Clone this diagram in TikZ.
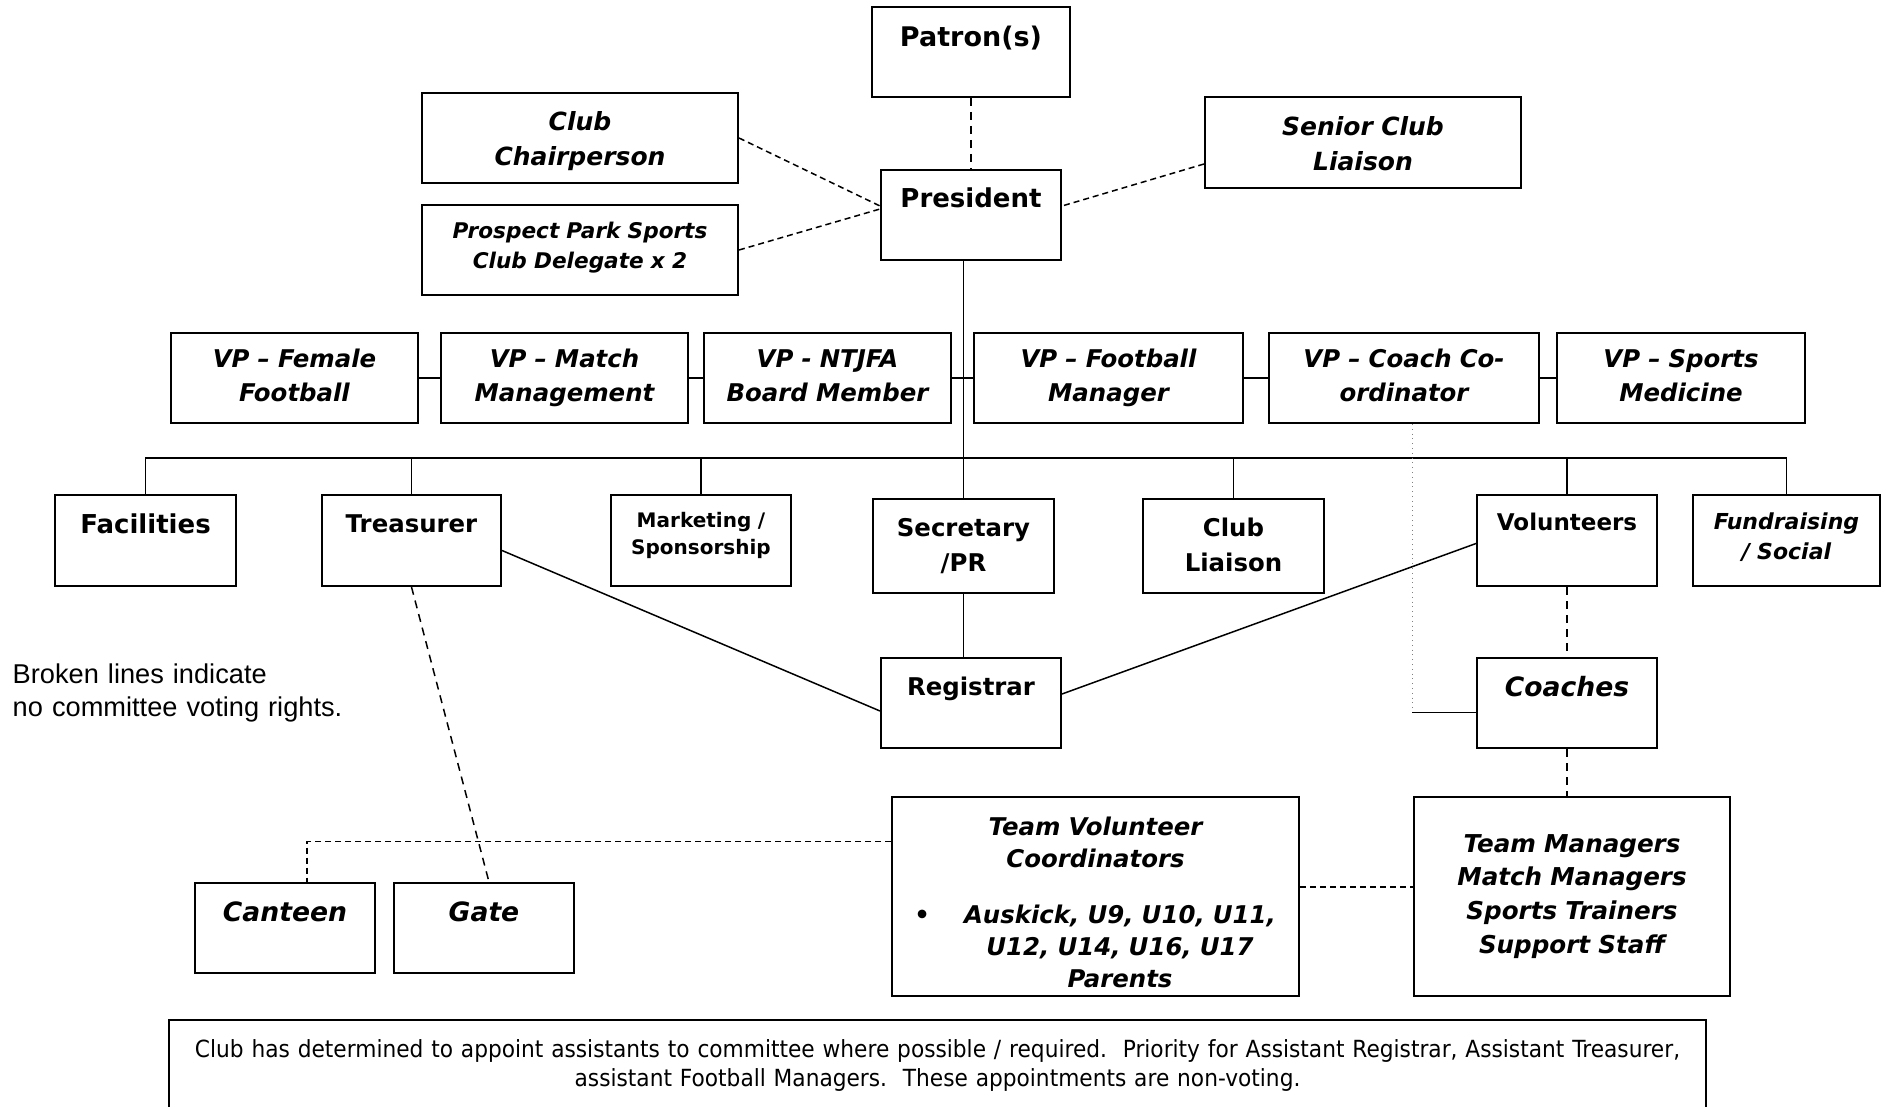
\documentclass[tikz,border=0pt]{standalone}
\usepackage{fontspec}
\setmainfont{DejaVu Sans}[BoldFont={DejaVu Sans Bold},ItalicFont={DejaVu Sans Oblique},BoldItalicFont={DejaVu Sans Bold Oblique}]
\newfontfamily\notefont{DejaVu Sans}[FakeStretch=0.92]
\newfontfamily\arialfont{Liberation Sans}
\usetikzlibrary{positioning}

\begin{document}
\begin{tikzpicture}[x=0.5pt,y=-0.5pt,line width=0.75pt,
  box/.style={draw,line width=1pt,anchor=north west,inner sep=0pt,align=center,text height=19pt},
  vp/.style={box,font=\fontsize{12.2}{17}\selectfont\bfseries\itshape,text width=123.5pt,text height=17.5pt,text depth=27.5pt},
  broken/.style={dash pattern=on 4pt off 3pt},
  fine/.style={dash pattern=on 3pt off 2pt}]
\useasboundingbox (0,0) rectangle (1891,1107);
\node[box,text width=99pt,text height=20pt,text depth=25pt,font=\fontsize{13.5}{17.5}\selectfont\bfseries](patron) at (871,6){Patron(s)};
\node[box,text width=90pt,text depth=26pt,font=\fontsize{13}{17.5}\selectfont\bfseries](pres) at (880,169){President};
\node[box,text width=158pt,text depth=26pt,font=\fontsize{12.5}{17.5}\selectfont\bfseries\itshape](chair) at (421,92){Club\\Chairperson};
\node[box,text width=158pt,text height=17pt,text depth=28pt,font=\fontsize{10.8}{15}\selectfont\bfseries\itshape,below=10pt of chair](pros){Prospect Park Sports\\Club Delegate x 2};
\node[box,text width=158pt,text height=19.25pt,text depth=26.25pt,font=\fontsize{12.5}{17.5}\selectfont\bfseries\itshape](senior) at (1204,96){Senior Club\\Liaison};
\node[vp](vpfem) at (170,332){VP – Female\\Football};
\node[vp,right=10.5pt of vpfem](vpmatch){VP – Match\\Management};
\node[vp,right=7pt of vpmatch](vpntjfa){VP - NTJFA\\Board Member};
\node[vp,text width=134.5pt,right=10.5pt of vpntjfa](vpfoot){VP – Football\\Manager};
\node[vp,text width=135pt,right=12pt of vpfoot](vpcoach){VP – Coach Co-\\ordinator};
\node[vp,text width=124pt,right=8pt of vpcoach](vpsport){VP – Sports\\Medicine};
\node[box,text width=90.5pt,text height=19.25pt,text depth=26.25pt,font=\fontsize{13}{17.5}\selectfont\bfseries](fac) at (54,494){Facilities};
\node[box,text width=89.5pt,text height=18.5pt,text depth=27pt,font=\fontsize{12.2}{17.5}\selectfont\bfseries](treas) at (321,494){Treasurer};
\node[box,text width=90pt,text height=16pt,text depth=29.5pt,font=\fontsize{10}{13.8}\selectfont\bfseries](mark) at (610,494){Marketing /\\Sponsorship};
\node[box,text width=90.5pt,text height=18.5pt,text depth=28.5pt,font=\fontsize{12.2}{17.5}\selectfont\bfseries](sec) at (872,498){Secretary\\/PR};
\node[box,text width=90.5pt,text height=18.5pt,text depth=28.5pt,font=\fontsize{12.2}{17.5}\selectfont\bfseries](club) at (1142,498){Club\\Liaison};
\node[box,text width=90pt,text height=17.5pt,text depth=28pt,font=\fontsize{11.5}{17.5}\selectfont\bfseries](vol) at (1476,494){Volunteers};
\node[box,text width=93.5pt,text height=17pt,text depth=28.5pt,font=\fontsize{11}{15}\selectfont\bfseries\itshape](fund) at (1692,494){Fundraising\\/ Social};
\node[box,text width=90pt,text height=18.5pt,text depth=26.5pt,font=\fontsize{12.2}{17.5}\selectfont\bfseries](reg) at (880,657){Registrar};
\node[box,text width=90pt,text height=19.3pt,text depth=25.7pt,font=\fontsize{13.3}{17.5}\selectfont\bfseries\itshape](coach) at (1476,657){Coaches};
\node[box,text width=203.5pt,text depth=80.5pt,font=\fontsize{12.2}{16}\selectfont\bfseries\itshape](tvc) at (891,796){Team Volunteer\\Coordinators\\[12pt]\hspace*{24.5pt}\llap{\textbullet\hspace{17pt}}Auskick, U9, U10, U11,\\\hspace*{24.5pt}U12, U14, U16, U17\\\hspace*{24.5pt}Parents};
\node[box,text width=158pt,text height=27.5pt,text depth=72pt,font=\fontsize{12.3}{16.9}\selectfont\bfseries\itshape](tm) at (1413,796){Team Managers\\Match Managers\\Sports Trainers\\Support Staff};
\node[box,text width=90pt,text depth=26pt,font=\fontsize{13.3}{17.5}\selectfont\bfseries\itshape](canteen) at (194,882){Canteen};
\node[box,text width=90pt,text depth=26pt,font=\fontsize{13.3}{17.5}\selectfont\bfseries\itshape,right=8.5pt of canteen](gate){Gate};
\node[box,draw=none,text width=767.5pt,text height=18pt,text depth=25.5pt,font=\notefont\fontsize{11.8}{14.5}\selectfont](note) at (169,1020){Club has determined to appoint assistants to committee where possible / required.\ \ Priority for Assistant Registrar, Assistant Treasurer,\\assistant Football Managers.\ \ These appointments are non-voting.};
\node[anchor=north west,inner sep=0pt,text width=220pt,align=left,text height=10pt,font=\arialfont\fontsize{13.6}{16.3}\selectfont](legend) at (12,663){Broken lines indicate\\no committee voting rights.};
\draw[line width=1pt] (note.south west) -- (note.north west) -- (note.north east) -- (note.south east);
\draw[broken] (patron) -- (pres);
\draw[fine] (chair.east) -- ([yshift=4.5pt]pres.west);
\draw[fine] (pros.east) -- ([yshift=3pt]pres.west);
\draw[fine] ([yshift=-10.75pt]senior.west) -- ([yshift=4.5pt]pres.east);
\draw (sec.north |- pres.south) -- (sec.north);
\foreach \a/\b in {vpfem/vpmatch,vpmatch/vpntjfa,vpntjfa/vpfoot,vpfoot/vpcoach,vpcoach/vpsport}
  \draw (\a) -- (\b);
\coordinate (bus) at (0,458);
\draw (fac.north) |- (bus -| fund.north) -- (fund.north);
\foreach \n in {treas,mark,club,vol}
  \draw (\n.north) -- (\n.north |- bus);
\draw ([yshift=-5pt]treas.east) -- ([yshift=-4pt]reg.west);
\draw ([yshift=-1.5pt]vol.west) -- ([yshift=4.5pt]reg.east);
\draw (sec.south) -- (sec.south |- reg.north);
\draw[broken] (vol) -- (coach);
\draw[broken] (coach.south) -- (coach.south |- tm.north);
\draw[broken] (treas.south) -- ([xshift=2.5pt]gate.north);
\coordinate (tvcl) at ([yshift=27.5pt]tvc.west);
\draw[fine] (tvcl) -| ([xshift=11pt]canteen.north);
\coordinate (tvcr) at ([yshift=4.75pt]tvc.east);
\draw[fine] (tvcr) -- (tvcr -| tm.west);
\coordinate (vcc) at ([xshift=4pt]vpcoach.south);
\coordinate (cl) at ([yshift=-4.75pt]coach.west);
\draw[gray,thin,dotted] (vcc) -- (vcc |- cl);
\draw (vcc |- cl) -- (cl);
\end{tikzpicture}
\end{document}
